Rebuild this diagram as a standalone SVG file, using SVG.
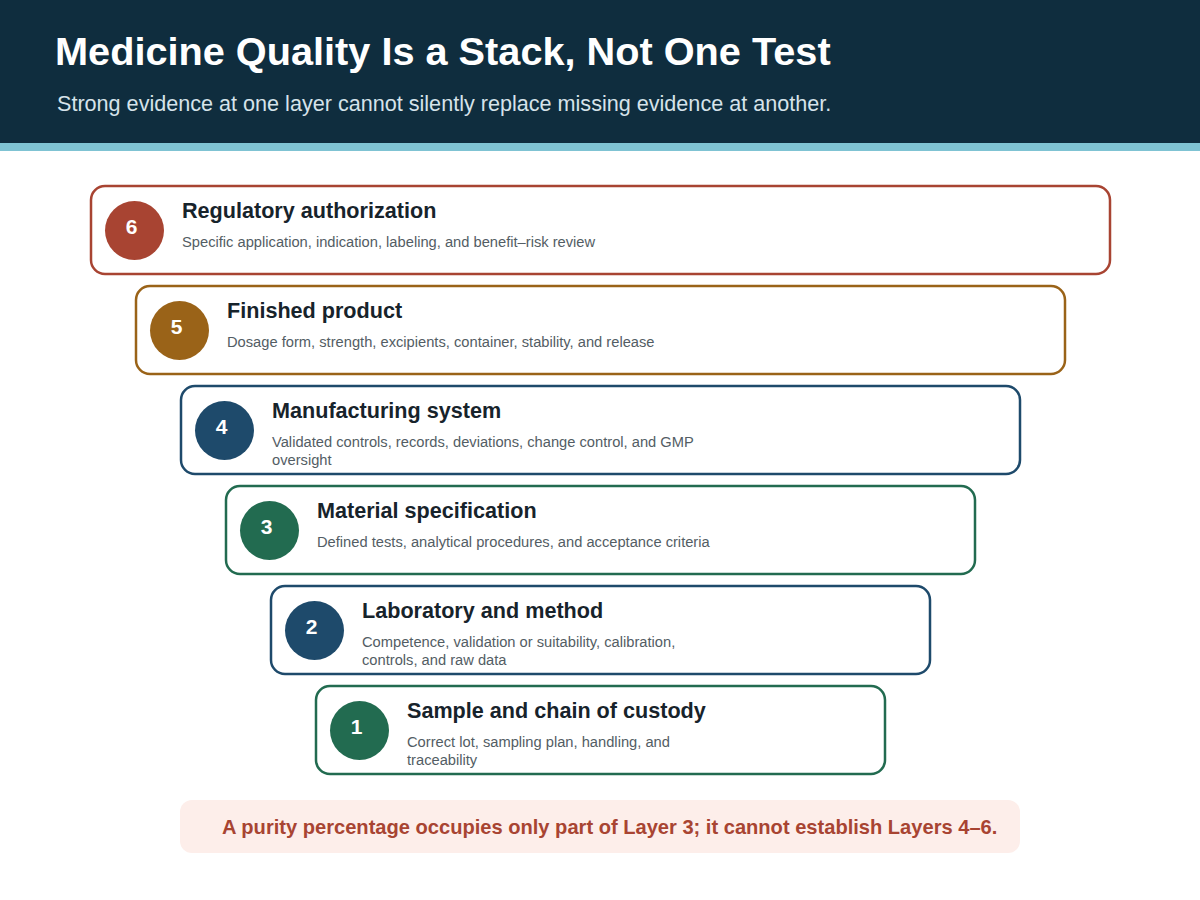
<svg xmlns="http://www.w3.org/2000/svg" width="1200" height="900" viewBox="0 0 1200 900">
<style>
.title{font-family:"Liberation Sans",Arial,sans-serif;font-weight:bold;font-size:39.7px;fill:#ffffff}
.sub{font-family:"Liberation Sans",Arial,sans-serif;font-size:21.6px;fill:#d6e3ea}
.box{fill:#ffffff;stroke-width:2.5}
.num{font-family:"Liberation Sans",Arial,sans-serif;font-weight:bold;font-size:21px;fill:#ffffff;text-anchor:middle}
.lt{font-family:"Liberation Sans",Arial,sans-serif;font-weight:bold;font-size:21.6px;fill:#17232b}
.ld{font-family:"Liberation Sans",Arial,sans-serif;font-size:14.7px;fill:#535d64}
.note{font-family:"Liberation Sans",Arial,sans-serif;font-weight:bold;font-size:20.1px;fill:#a84432}
</style>
<rect x="0" y="0" width="1200" height="900" fill="#ffffff"/>
<g id="header">
<rect x="0" y="0" width="1200" height="144" fill="#0f2d3e"/>
<rect x="0" y="143" width="1200" height="8" fill="#7fc3d3"/>
<text class="title" x="55" y="65">Medicine Quality Is a Stack, Not One Test</text>
<text class="sub" x="57" y="111">Strong evidence at one layer cannot silently replace missing evidence at another.</text>
</g>
<g id="layer6">
<rect class="box" x="91" y="186" width="1019" height="88" rx="14" stroke="#a84432"/>
<circle cx="134.5" cy="230.5" r="29.5" fill="#a84432"/>
<text class="num" x="131.5" y="234">6</text>
<text class="lt" x="182" y="218">Regulatory authorization</text>
<text class="ld" x="182" y="247">Specific application, indication, labeling, and benefit–risk review</text>
</g>
<g id="layer5">
<rect class="box" x="136" y="286" width="929" height="88" rx="14" stroke="#9a6318"/>
<circle cx="179.5" cy="330.5" r="29.5" fill="#9a6318"/>
<text class="num" x="176.5" y="334">5</text>
<text class="lt" x="227" y="318">Finished product</text>
<text class="ld" x="227" y="347">Dosage form, strength, excipients, container, stability, and release</text>
</g>
<g id="layer4">
<rect class="box" x="181" y="386" width="839" height="88" rx="14" stroke="#1e4a6b"/>
<circle cx="224.5" cy="430.5" r="29.5" fill="#1e4a6b"/>
<text class="num" x="221.5" y="434">4</text>
<text class="lt" x="272" y="418">Manufacturing system</text>
<text class="ld" x="272" y="447">Validated controls, records, deviations, change control, and GMP</text>
<text class="ld" x="272" y="465">oversight</text>
</g>
<g id="layer3">
<rect class="box" x="226" y="486" width="749" height="88" rx="14" stroke="#226b50"/>
<circle cx="269.5" cy="530.5" r="29.5" fill="#226b50"/>
<text class="num" x="266.5" y="534">3</text>
<text class="lt" x="317" y="518">Material specification</text>
<text class="ld" x="317" y="547">Defined tests, analytical procedures, and acceptance criteria</text>
</g>
<g id="layer2">
<rect class="box" x="271" y="586" width="659" height="88" rx="14" stroke="#1e4a6b"/>
<circle cx="314.5" cy="630.5" r="29.5" fill="#1e4a6b"/>
<text class="num" x="311.5" y="634">2</text>
<text class="lt" x="362" y="618">Laboratory and method</text>
<text class="ld" x="362" y="647">Competence, validation or suitability, calibration,</text>
<text class="ld" x="362" y="665">controls, and raw data</text>
</g>
<g id="layer1">
<rect class="box" x="316" y="686" width="569" height="88" rx="14" stroke="#226b50"/>
<circle cx="359.5" cy="730.5" r="29.5" fill="#226b50"/>
<text class="num" x="356.5" y="734">1</text>
<text class="lt" x="407" y="718">Sample and chain of custody</text>
<text class="ld" x="407" y="747">Correct lot, sampling plan, handling, and</text>
<text class="ld" x="407" y="765">traceability</text>
</g>
<g id="connectors"></g>
<g id="note">
<rect x="180" y="800" width="840" height="53" rx="12" fill="#fdeeea"/>
<text class="note" x="222" y="834">A purity percentage occupies only part of Layer 3; it cannot establish Layers 4–6.</text>
</g>
</svg>
